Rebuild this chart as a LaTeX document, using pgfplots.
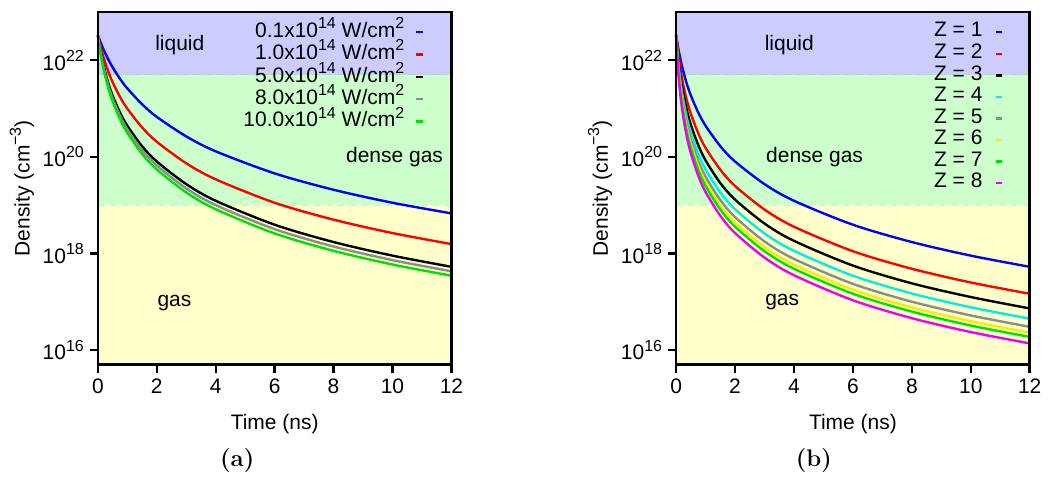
\documentclass[border=0pt]{standalone}
\usepackage{fontspec}
\usepackage{pgfplots}
\usepackage{pgfplotstable}
\pgfplotsset{compat=1.18}
\newfontfamily\hv{Liberation Sans}
\newcommand\pf{\hv\fontsize{10.5}{12}\selectfont}
\newcommand\sups[1]{\raisebox{0.42em}{\fontsize{8}{8}\selectfont #1}}

\definecolor{liqc}{RGB}{204,204,255}
\definecolor{densec}{RGB}{204,255,204}
\definecolor{gasc}{RGB}{255,255,204}
\definecolor{cgrey}{RGB}{140,140,140}
\definecolor{cgreen}{RGB}{0,225,0}
\definecolor{ccyan}{RGB}{0,235,235}
\definecolor{cyell}{RGB}{240,240,0}
\definecolor{cmag}{RGB}{240,0,240}
\definecolor{lineA}{RGB}{170,225,170}
\definecolor{lineB}{RGB}{225,230,170}

% (a) intensity scan
\pgfplotstableread{
t    I01     I10     I50     I80     I100
0    3.31e22 3.31e22 3.31e22 3.31e22 3.31e22
0.05 2.73e22 2.42e22 2.11e22 2.05e22 1.98e22
0.1  2.28e22 1.82e22 1.43e22 1.36e22 1.28e22
0.2  1.63e22 1.10e22 7.43e21 6.81e21 6.22e21
0.35 1.05e22 5.89e21 3.43e21 3.05e21 2.70e21
0.5  7.16e21 3.52e21 1.86e21 1.62e21 1.41e21
0.75 4.14e21 1.75e21 8.28e20 7.08e20 6.04e20
1    2.61e21 9.91e20 4.39e20 3.70e20 3.13e20
1.5  1.23e21 4.07e20 1.66e20 1.38e20 1.15e20
2    6.71e20 2.05e20 8.00e19 6.61e19 5.47e19
3    2.65e20 7.35e19 2.72e19 2.22e19 1.83e19
4    1.30e20 3.42e19 1.23e19 1.00e19 8.20e18
6    4.54e19 1.12e19 3.93e18 3.18e18 2.59e18
8    2.08e19 5.00e18 1.72e18 1.39e18 1.13e18
10   1.12e19 2.64e18 9.00e17 7.26e17 5.89e17
12   6.75e18 1.56e18 5.28e17 4.27e17 3.45e17
}\dataA

% (b) Z scan
\pgfplotstableread{
t    Z1      Z2      Z3      Z4      Z5      Z6      Z7      Z8
0    3.31e22 3.31e22 3.31e22 3.31e22 3.31e22 3.31e22 3.31e22 3.31e22
0.05 2.11e22 1.69e22 1.45e22 1.28e22 1.14e22 1.05e22 9.82e21 8.79e21
0.1  1.43e22 9.82e21 7.60e21 6.22e21 5.22e21 4.57e21 4.14e21 3.52e21
0.2  7.43e21 4.14e21 2.84e21 2.14e21 1.68e21 1.40e21 1.23e21 9.91e20
0.35 3.43e21 1.59e21 9.95e20 7.03e20 5.26e20 4.25e20 3.63e20 2.83e20
0.5  1.86e21 7.73e20 4.58e20 3.13e20 2.28e20 1.82e20 1.53e20 1.18e20
0.75 8.28e20 3.09e20 1.75e20 1.15e20 8.22e19 6.44e19 5.40e19 4.07e19
1    4.39e20 1.53e20 8.41e19 5.47e19 3.85e19 2.99e19 2.49e19 1.86e19
1.5  1.66e20 5.40e19 2.86e19 1.83e19 1.27e19 9.77e18 8.09e18 6.01e18
2    8.00e19 2.49e19 1.30e19 8.20e18 5.66e18 4.34e18 3.57e18 2.64e18
3    2.72e19 8.09e18 4.15e18 2.59e18 1.77e18 1.35e18 1.11e18 8.19e17
4    1.23e19 3.57e18 1.82e18 1.13e18 7.69e17 5.86e17 4.81e17 3.53e17
6    3.93e18 1.11e18 5.60e17 3.45e17 2.34e17 1.78e17 1.46e17 1.07e17
8    1.72e18 4.81e17 2.40e17 1.48e17 1.00e17 7.62e16 6.24e16 4.56e16
10   9.00e17 2.50e17 1.25e17 7.66e16 5.19e16 3.93e16 3.21e16 2.35e16
12   5.28e17 1.46e17 7.26e16 4.46e16 3.02e16 2.29e16 1.87e16 1.37e16
}\dataB

\pgfplotsset{
  mycurve/.style={line width=1.2pt, smooth},
  myzone/.style={forget plot, draw=none, sharp plot},
  myborder/.style={forget plot, sharp plot, line width=0.4pt, dashed},
  myframe/.style={forget plot, sharp plot, black, line width=1.2pt, unbounded coords=jump},
}

\begin{document}
\begin{tikzpicture}
\path (0,0) (524pt,237pt);

% ---------- (a) ----------
\begin{axis}[
  scale only axis, width=177pt, height=176.5pt,
  at={(49pt,54.5pt)}, anchor=south west, clip=false,
  ymode=log, xmin=0, xmax=12, ymin=5e15, ymax=1e23,
  xtick={0,2,4,6,8,10,12}, xticklabels={0,2,4,6,8,10,12},
  ytick={1e16,1e18,1e20,1e22},
  yticklabels={10\sups{16},10\sups{18},10\sups{20},10\sups{22}},
  xminorticks=false, yminorticks=false,
  tick align=outside, tick pos=left, major tick length=3.5pt,
  ticklabel style={font=\pf},
  xlabel={Time (ns)}, ylabel={Density (cm\sups{−3})},
  xlabel style={at={(rel axis cs:0.5,-0.17)}, anchor=center, font=\pf},
  ylabel style={at={(rel axis cs:-0.215,0.5)}, anchor=center, font=\pf},
  legend plot pos=right, legend cell align=right,
  legend image code/.code={\path (0pt,0pt); \draw[#1, line width=1.2pt] (5.5pt,0pt) -- (9pt,0pt);},
  legend style={draw=none, fill=none, inner sep=0pt, outer sep=0pt,
    at={(0.924,0.9745)}, anchor=north east, row sep=0pt,
    nodes={inner sep=0pt, text height=8.2pt, text depth=3pt, font=\pf}},
]
\addplot[myzone, fill=liqc] coordinates {(0,5e21) (12,5e21) (12,1e23) (0,1e23)} -- cycle;
\addplot[myzone, fill=densec] coordinates {(0,1e19) (12,1e19) (12,5e21) (0,5e21)} -- cycle;
\addplot[myzone, fill=gasc] coordinates {(0,5e15) (12,5e15) (12,1e19) (0,1e19)} -- cycle;
\addplot[myborder, lineA] coordinates {(0,5e21) (12,5e21)};
\addplot[myborder, lineB] coordinates {(0,1e19) (12,1e19)};
\addplot[mycurve, blue]   table[x=t, y=I01]  {\dataA};
\addplot[mycurve, red]    table[x=t, y=I10]  {\dataA};
\addplot[mycurve, black]  table[x=t, y=I50]  {\dataA};
\addplot[mycurve, cgrey]  table[x=t, y=I80]  {\dataA};
\addplot[mycurve, cgreen] table[x=t, y=I100] {\dataA};
\legend{0.1x10\sups{14} W/cm\sups{2},
        1.0x10\sups{14} W/cm\sups{2},
        5.0x10\sups{14} W/cm\sups{2},
        8.0x10\sups{14} W/cm\sups{2},
        10.0x10\sups{14} W/cm\sups{2}}
% frame and outward ticks
\addplot[myframe] coordinates {(0,5e15) (12,5e15) (12,1e23) (0,1e23) (0,5e15)} -- cycle;
\addplot[myframe] coordinates {(0,5e15) (0,3.38e15) (nan,nan) (2,5e15) (2,3.38e15) (nan,nan)
  (4,5e15) (4,3.38e15) (nan,nan) (6,5e15) (6,3.38e15) (nan,nan) (8,5e15) (8,3.38e15) (nan,nan)
  (10,5e15) (10,3.38e15) (nan,nan) (12,5e15) (12,3.38e15)};
\addplot[myframe] coordinates {(0,1e16) (-0.278,1e16) (nan,nan) (0,1e18) (-0.278,1e18) (nan,nan)
  (0,1e20) (-0.278,1e20) (nan,nan) (0,1e22) (-0.278,1e22)};
\node[font=\pf] at (axis cs:2.78,2.1e22) {liquid};
\node[font=\pf] at (axis cs:10.07,1e20) {dense gas};
\node[font=\pf] at (axis cs:2.6,9.5e16) {gas};
\end{axis}

% ---------- (b) ----------
\begin{axis}[
  scale only axis, width=177pt, height=176.5pt,
  at={(338.5pt,54.5pt)}, anchor=south west, clip=false,
  ymode=log, xmin=0, xmax=12, ymin=5e15, ymax=1e23,
  xtick={0,2,4,6,8,10,12}, xticklabels={0,2,4,6,8,10,12},
  ytick={1e16,1e18,1e20,1e22},
  yticklabels={10\sups{16},10\sups{18},10\sups{20},10\sups{22}},
  xminorticks=false, yminorticks=false,
  tick align=outside, tick pos=left, major tick length=3.5pt,
  ticklabel style={font=\pf},
  xlabel={Time (ns)}, ylabel={Density (cm\sups{−3})},
  xlabel style={at={(rel axis cs:0.5,-0.17)}, anchor=center, font=\pf},
  ylabel style={at={(rel axis cs:-0.215,0.5)}, anchor=center, font=\pf},
  legend plot pos=right, legend cell align=right,
  legend image code/.code={\path (0pt,0pt); \draw[#1, line width=1.2pt] (6pt,0pt) -- (9pt,0pt);},
  legend style={draw=none, fill=none, inner sep=0pt, outer sep=0pt,
    at={(0.924,0.9733)}, anchor=north east, row sep=0pt,
    nodes={inner sep=0pt, text height=7.8pt, text depth=3pt, font=\pf}},
]
\addplot[myzone, fill=liqc] coordinates {(0,5e21) (12,5e21) (12,1e23) (0,1e23)} -- cycle;
\addplot[myzone, fill=densec] coordinates {(0,1e19) (12,1e19) (12,5e21) (0,5e21)} -- cycle;
\addplot[myzone, fill=gasc] coordinates {(0,5e15) (12,5e15) (12,1e19) (0,1e19)} -- cycle;
\addplot[myborder, lineA] coordinates {(0,5e21) (12,5e21)};
\addplot[myborder, lineB] coordinates {(0,1e19) (12,1e19)};
\addplot[mycurve, blue]   table[x=t, y=Z1] {\dataB};
\addplot[mycurve, red]    table[x=t, y=Z2] {\dataB};
\addplot[mycurve, black]  table[x=t, y=Z3] {\dataB};
\addplot[mycurve, ccyan]  table[x=t, y=Z4] {\dataB};
\addplot[mycurve, cgrey]  table[x=t, y=Z5] {\dataB};
\addplot[mycurve, cyell]  table[x=t, y=Z6] {\dataB};
\addplot[mycurve, cgreen] table[x=t, y=Z7] {\dataB};
\addplot[mycurve, cmag]   table[x=t, y=Z8] {\dataB};
\legend{Z = 1, Z = 2, Z = 3, Z = 4, Z = 5, Z = 6, Z = 7, Z = 8}
% frame and outward ticks
\addplot[myframe] coordinates {(0,5e15) (12,5e15) (12,1e23) (0,1e23) (0,5e15)} -- cycle;
\addplot[myframe] coordinates {(0,5e15) (0,3.38e15) (nan,nan) (2,5e15) (2,3.38e15) (nan,nan)
  (4,5e15) (4,3.38e15) (nan,nan) (6,5e15) (6,3.38e15) (nan,nan) (8,5e15) (8,3.38e15) (nan,nan)
  (10,5e15) (10,3.38e15) (nan,nan) (12,5e15) (12,3.38e15)};
\addplot[myframe] coordinates {(0,1e16) (-0.278,1e16) (nan,nan) (0,1e18) (-0.278,1e18) (nan,nan)
  (0,1e20) (-0.278,1e20) (nan,nan) (0,1e22) (-0.278,1e22)};
\node[font=\pf] at (axis cs:3.84,2.1e22) {liquid};
\node[font=\pf] at (axis cs:4.7,1e20) {dense gas};
\node[font=\pf] at (axis cs:3.6,1e17) {gas};
\end{axis}

\node[anchor=base, font=\rmfamily\bfseries\fontsize{12}{14}\selectfont] at (118.75pt,3.5pt) {(a)};
\node[anchor=base, font=\rmfamily\bfseries\fontsize{12}{14}\selectfont] at (407.5pt,3.5pt) {(b)};
\end{tikzpicture}
\end{document}
